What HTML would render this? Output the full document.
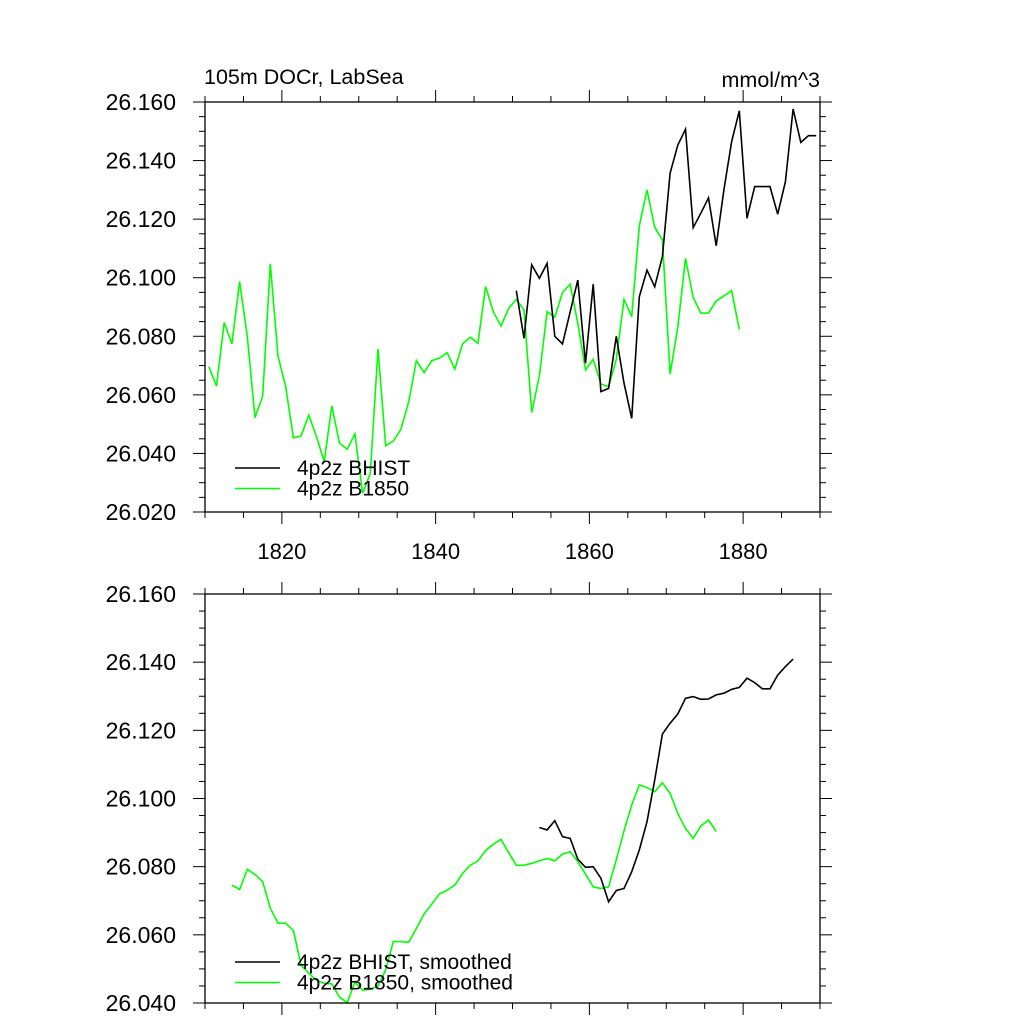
<!DOCTYPE html>
<html><head><meta charset="utf-8"><style>
html,body{margin:0;padding:0;background:#fff;}
svg text{font-family:"Liberation Sans",sans-serif;fill:#000;}
</style></head><body>
<svg id="chart" width="1024" height="1024" viewBox="0 0 1024 1024" xmlns="http://www.w3.org/2000/svg">
<text x="204" y="84" font-size="21.5">105m DOCr, LabSea</text>
<text x="820" y="87" font-size="21.5" text-anchor="end">mmol/m^3</text>
</svg>
<script>
const topYears0 = 1810.5;
const topB1850 = [26.0696,26.0630,26.0847,26.0774,26.0987,26.0800,26.0522,26.0596,26.1047,26.0733,26.0628,26.0453,26.0460,26.0531,26.0457,26.0372,26.0562,26.0435,26.0414,26.0467,26.0264,26.0332,26.0756,26.0426,26.0442,26.0483,26.0577,26.0717,26.0676,26.0717,26.0725,26.0744,26.0688,26.0774,26.0797,26.0776,26.0970,26.0884,26.0835,26.0896,26.0926,26.0890,26.0540,26.0665,26.0884,26.0865,26.0950,26.0978,26.0844,26.0685,26.0721,26.0637,26.0628,26.0721,26.0926,26.0867,26.1177,26.1300,26.1172,26.1129,26.0671,26.0831,26.1066,26.0933,26.0879,26.0879,26.0920,26.0938,26.0956,26.0824];
const topBhistStart = 1850.5;
const topBHIST = [26.0956,26.0793,26.1044,26.0998,26.1049,26.0800,26.0774,26.0884,26.0992,26.0708,26.0978,26.0611,26.0622,26.0800,26.0640,26.0520,26.0935,26.1026,26.0969,26.1072,26.1357,26.1453,26.1507,26.1171,26.1220,26.1273,26.1109,26.1300,26.1464,26.1570,26.1203,26.1311,26.1311,26.1311,26.1217,26.1328,26.1576,26.1462,26.1485,26.1485];
const botB1850Start = 1813.5;
const botB1850 = [26.0746,26.0733,26.0792,26.0777,26.0756,26.0678,26.0634,26.0634,26.0612,26.0511,26.0487,26.0467,26.0458,26.0456,26.0417,26.0401,26.0462,26.0438,26.0440,26.0450,26.0497,26.0580,26.0580,26.0578,26.0619,26.0661,26.0690,26.0720,26.0731,26.0746,26.0780,26.0804,26.0817,26.0847,26.0866,26.0880,26.0841,26.0804,26.0804,26.0810,26.0817,26.0824,26.0817,26.0837,26.0844,26.0815,26.0778,26.0741,26.0736,26.0741,26.0820,26.0905,26.0981,26.1040,26.1032,26.1020,26.1046,26.1015,26.0956,26.0912,26.0883,26.0919,26.0937,26.0903];
const botBhistStart = 1853.5;
const botBHIST = [26.0915,26.0908,26.0935,26.0888,26.0883,26.0822,26.0798,26.0800,26.0766,26.0697,26.0730,26.0736,26.0785,26.0849,26.0932,26.1054,26.1189,26.1221,26.1248,26.1294,26.1299,26.1291,26.1292,26.1304,26.1309,26.1320,26.1326,26.1353,26.1340,26.1322,26.1322,26.1362,26.1387,26.1409];
const xTickLabels = ["1820","1840","1860","1880"];
const topYTickLabels = ["26.020","26.040","26.060","26.080","26.100","26.120","26.140","26.160"];
const botYTickLabels = ["26.040","26.060","26.080","26.100","26.120","26.140","26.160"];

const NS="http://www.w3.org/2000/svg";
const svg=document.getElementById('chart');
function mk(tag,attrs,parent){const e=document.createElementNS(NS,tag);for(const k in attrs)e.setAttribute(k,attrs[k]);(parent||svg).appendChild(e);return e;}

function panel(name,box,ymin,ymax,yLabels,showXLabels,series,legend){
  const g=mk('g',{});
  
  
  const xmin=1810,xmax=1890;
  const X=v=>box.l+(v-xmin)/(xmax-xmin)*(box.r-box.l);
  const Y=v=>box.b-(v-ymin)/(ymax-ymin)*(box.b-box.t);
  const ticks=mk('g',{stroke:'#000','stroke-width':1},g);
  
  
  for(let yr=1810;yr<=1890;yr+=5){
    const maj=(yr%20===0), x=X(yr), L=maj?12:6;
    mk('line',{x1:x,x2:x,y1:box.t,y2:box.t-L},ticks);
    mk('line',{x1:x,x2:x,y1:box.b,y2:box.b+L},ticks);
  }
  for(let i=0;i<=Math.round((ymax-ymin)/0.005);i++){
    const v=ymin+i*0.005, y=Y(v), maj=(i%4===0), L=maj?12:6;
    mk('line',{x1:box.l,x2:box.l-L,y1:y,y2:y},ticks);
    mk('line',{x1:box.r,x2:box.r+L,y1:y,y2:y},ticks);
  }
  yLabels.forEach(s=>{
    const t=mk('text',{x:box.l-29,y:Y(parseFloat(s))+8,'font-size':23,'text-anchor':'end'},g);
    t.textContent=s;
    
    
  });
  if(showXLabels) xTickLabels.forEach(s=>{
    const t=mk('text',{x:X(parseFloat(s)),y:box.b+47,'font-size':22,'text-anchor':'middle'},g);
    t.textContent=s;
    
    
  });
  series.forEach(s=>{
    const pts=s.vals.map((v,i)=>X(s.start+i).toFixed(1)+','+Y(v).toFixed(1)).join(' ');
    const p=mk('polyline',{points:pts,fill:'none',stroke:s.color,'stroke-width':1.6,'stroke-linejoin':'miter'},g);
    
    
  });
  const fr=mk('rect',{x:box.l,y:box.t,width:box.r-box.l,height:box.b-box.t,fill:'none',stroke:'#000','stroke-width':1.3},g);
  
  
  legend.items.forEach((it,i)=>{
    const y=legend.y+i*20.5;
    const lg=mk('g',{},g);
    
    
    mk('line',{x1:235,x2:280,y1:y,y2:y,stroke:it.color,'stroke-width':1.6},lg);
    const t=mk('text',{x:297,y:y+7,'font-size':21},lg);
    t.textContent=it.label;
  });
}
panel('top-panel',{l:205,r:820,t:102,b:512},26.02,26.16,topYTickLabels,true,
  [{name:'top-b1850-line',start:topYears0,vals:topB1850,color:'#00ff00'},
   {name:'top-bhist-line',start:topBhistStart,vals:topBHIST,color:'#000'}],
  {y:468,items:[{label:'4p2z BHIST',color:'#000'},{label:'4p2z B1850',color:'#00ff00'}]});
panel('bottom-panel',{l:205,r:820,t:594,b:1003},26.04,26.16,botYTickLabels,false,
  [{name:'bottom-b1850-smoothed-line',start:botB1850Start,vals:botB1850,color:'#00ff00'},
   {name:'bottom-bhist-smoothed-line',start:botBhistStart,vals:botBHIST,color:'#000'}],
  {y:962,items:[{label:'4p2z BHIST, smoothed',color:'#000'},{label:'4p2z B1850, smoothed',color:'#00ff00'}]});
</script>
</body></html>
